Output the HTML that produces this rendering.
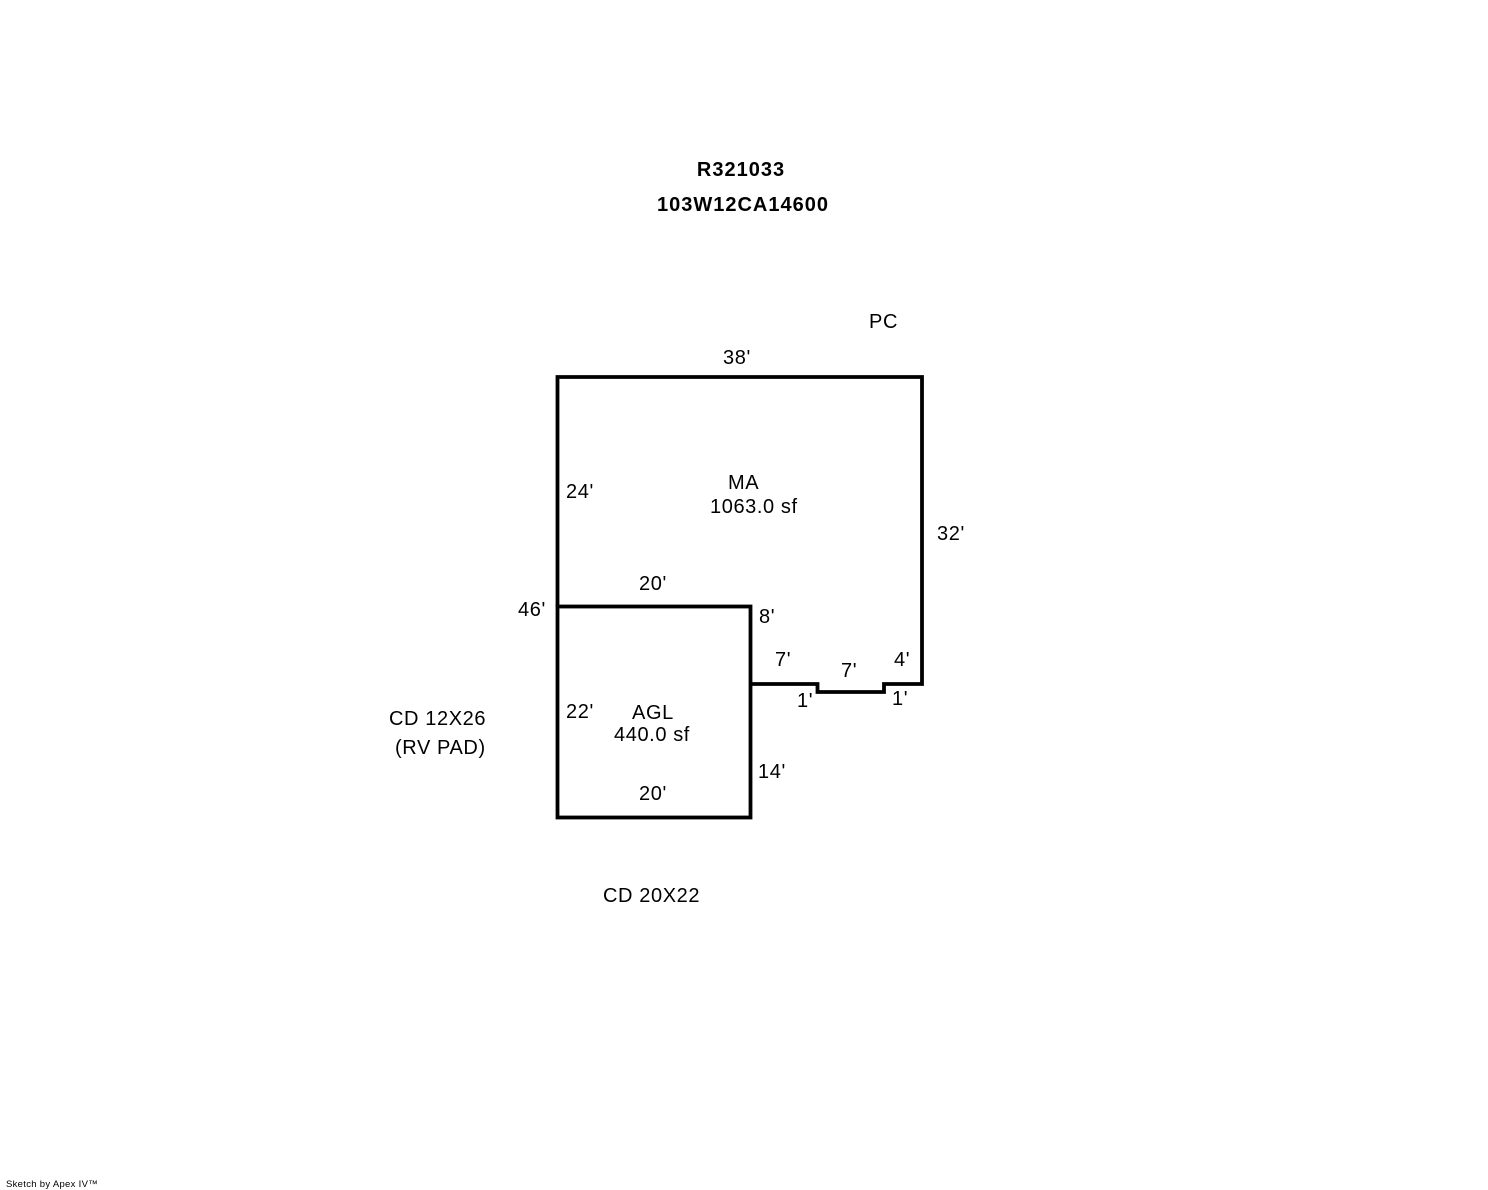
<!DOCTYPE html>
<html><head><style>
body{margin:0;background:#fff;}
svg{display:block;}
text{font-family:"Liberation Sans",Arial,sans-serif;font-size:20px;letter-spacing:0.6px;fill:#000;}
</style></head><body>
<svg width="1488" height="1190" viewBox="0 0 1488 1190">
<rect width="1488" height="1190" fill="#fff"/>
<g fill="none" stroke="#000" stroke-width="3.8" stroke-linejoin="miter">
<polyline points="557.5,606.5 557.5,377 922,377 922,684 884,684 884,692 817.5,692 817.5,684 750.5,684"/>
<rect x="557.5" y="606.5" width="193" height="211"/>
</g>
<text x="741" y="176" text-anchor="middle" font-weight="bold" style="letter-spacing:1px">R321033</text>
<text x="743" y="211" text-anchor="middle" font-weight="bold" style="letter-spacing:1px">103W12CA14600</text>
<text x="869" y="328">PC</text>
<text x="723" y="364">38'</text>
<text x="728" y="489">MA</text>
<text x="710" y="513">1063.0 sf</text>
<text x="566" y="498">24'</text>
<text x="937" y="540">32'</text>
<text x="639" y="590">20'</text>
<text x="518" y="616">46'</text>
<text x="759" y="623">8'</text>
<text x="775" y="666">7'</text>
<text x="841" y="677">7'</text>
<text x="894" y="666">4'</text>
<text x="797" y="707">1'</text>
<text x="892" y="705">1'</text>
<text x="632" y="719">AGL</text>
<text x="614" y="741">440.0 sf</text>
<text x="566" y="718">22'</text>
<text x="389" y="725">CD 12X26</text>
<text x="395" y="754">(RV PAD)</text>
<text x="758" y="778">14'</text>
<text x="639" y="800">20'</text>
<text x="603" y="902">CD 20X22</text>
<text x="6" y="1187" style="font-size:9.5px;letter-spacing:0.3px">Sketch by Apex IV™</text>
</svg>
</body></html>
